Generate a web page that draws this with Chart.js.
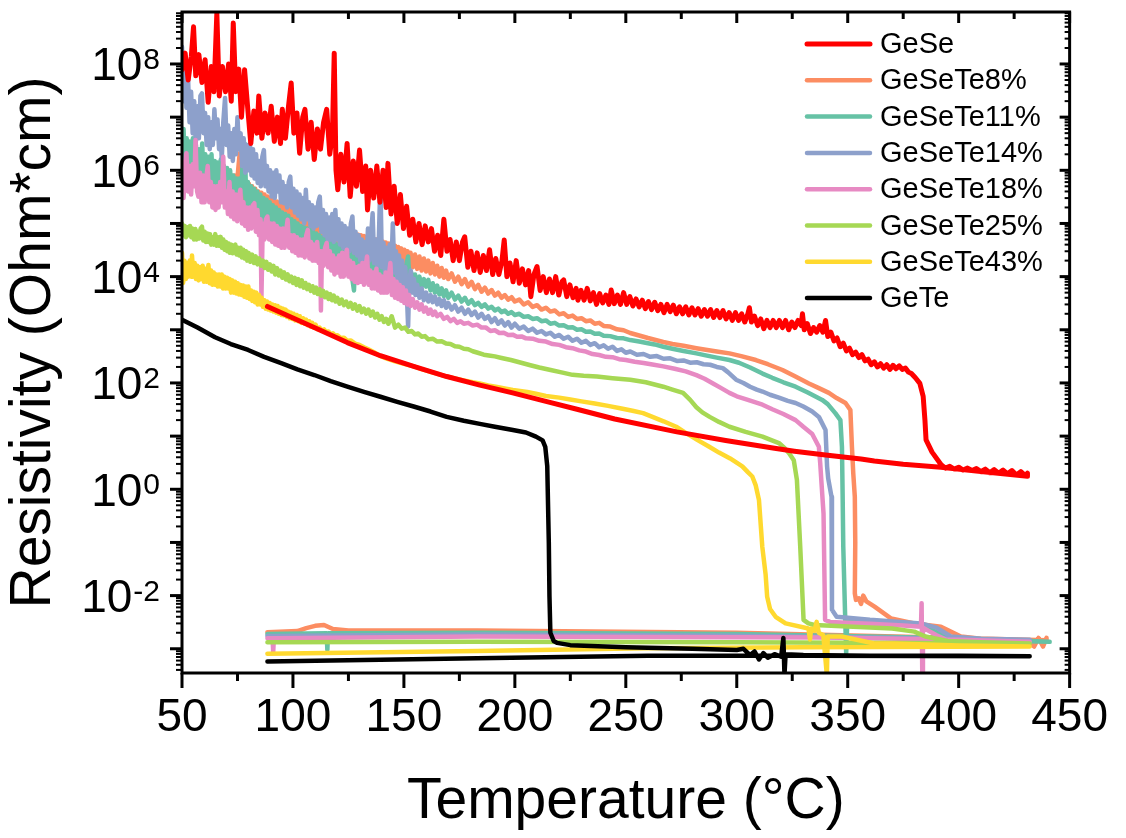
<!DOCTYPE html>
<html>
<head>
<meta charset="utf-8">
<title>Resistivity vs temperature</title>
<script src="https://cdn.jsdelivr.net/npm/chart.js@4.4.1/dist/chart.umd.min.js"></script>
<style>
  html, body { margin: 0; padding: 0; background: #fff; }
  #wrap { width: 1126px; height: 838px; }
</style>
</head>
<body>
<div id="wrap"><canvas id="chart" width="1126" height="838"></canvas></div>
<script>
// Temperature ticks (°C) and labelled decades on the resistivity axis
const tempTicks = [50, 100, 150, 200, 250, 300, 350, 400, 450];
const tempMinorTicks = [75, 125, 175, 225, 275, 325, 375, 425];
const decadeLabels = [8, 6, 4, 2, 0, -2];

// Each sample: heating run [T, rho] followed by the cooling run back down
const geseHeat = [[50,7.8e7],[51.4,1.6e8],[52.8,5e7],[54.2,1.4e8],[55.2,5e8],[56.2,6e7],[57.6,1.5e8],[59,4.5e7],[60.4,1.2e8],[61.8,1.9e7],[63.2,9e7],[64.4,3e7],[65.7,9e8],[66.8,2.5e7],[68.2,9e7],[69.6,3e7],[71,1e8],[72.2,2e7],[73.1,5.9e8],[74.2,3e7],[75.6,8e7],[76.8,1e7],[78.2,7.8e7],[79.6,1.5e7],[81,3.2e6],[82.4,1.3e7],[83.8,5e6],[84.6,2.5e7],[86,4e6],[87.4,1.2e7],[88.8,5e6],[90.2,1.6e7],[91.6,3.5e6],[93,1e7],[94.4,3.2e6],[95.2,1.4e7],[96.6,4e6],[98,1.6e7],[99.2,4.4e7],[100.4,5e6],[101.8,1.2e7],[103,2.1e6],[104.4,1e7],[105.4,1.4e7],[106.8,2.5e6],[108.2,8e6],[109.6,1.6e6],[111,6e6],[112.4,2.5e6],[113.8,8e6],[115.2,1.4e7],[116.6,2e6],[117.8,5e6],[118.6,1.6e8],[119.4,1e6],[120.2,4.3e5],[121.6,2e6],[123,6e5],[124.4,3.2e6],[125.8,3.2e5],[127.2,1.5e6],[128.6,5e5],[130,2.4e6],[131.4,4e5],[132.8,1.2e6],[133.6,1.8e5],[135,1e6],[136.4,3e5],[137.8,1.2e6],[139.2,2.5e5],[140.6,1e6],[142,2e5],[142.8,1.35e6],[144.2,1.5e5],[145.6,5e5],[147,1e5],[148.4,3.5e5],[149.8,8e4],[151.2,2.1e5],[152.6,6e4],[154,1.2e5],[155.4,4.5e4],[156.8,1e5],[158.2,4e4],[159.6,9e4],[161,4.5e4],[162.4,8e4],[163.8,3e4],[165.2,6e4],[166.6,2.5e4],[168,1.2e5],[169.4,3e4],[170.8,5e4],[172.2,2e4],[173.6,4.5e4],[175,2e4],[176.4,4.5e4],[177.4,5.6e4],[178.8,1.5e4],[180.2,3e4],[181.6,1.3e4],[183,2.8e4],[184.4,1.2e4],[185.8,2.5e4],[187.2,1.3e4],[188.6,3.2e4],[190,1.1e4],[191.4,2.2e4],[192.8,1.1e4],[194.2,2e4],[195.2,4.9e4],[196.4,1e4],[197.8,1.8e4],[199.2,8e3],[200.6,2e4],[202,7.5e3],[203.4,1.4e4],[204.8,7e3],[206.2,1.3e4],[207.2,4.2e3],[208.6,1.1e4],[210,1.55e4],[211.4,5.5e3],[212.8,1e4],[214.2,5e3],[215.6,9e3],[217,5e3],[218.4,1e4],[219.8,4.5e3],[221.2,8e3],[222,8.7e3],[223.4,4.2e3],[224.8,7e3],[226.2,4e3],[227.6,6e3],[228.4,3.6e3],[229.8,5.5e3],[231.2,3.6e3],[232.6,6e3],[234,3.5e3],[235.4,5e3],[236.8,3e3],[238.2,4.8e3],[239.6,3.2e3],[241,4.5e3],[242.4,3e3],[243.4,5.6e3],[244.8,3.1e3],[246.2,4.5e3],[247.6,3e3],[249,5e3],[250.4,3e3],[251.8,4.2e3],[253.2,2.8e3],[254.6,3.8e3],[256,2.7e3],[257.4,3.6e3],[258.8,2.5e3],[260.2,3.4e3],[261.6,2.4e3],[263,3.3e3],[264.4,2.3e3],[265.8,3e3],[267.2,2.1e3],[268.6,3e3],[270,2.2e3],[271.4,2.9e3],[272.8,2e3],[274.2,2.7e3],[275.6,2e3],[277,2.7e3],[278.4,1.9e3],[279.8,2.6e3],[281.2,1.9e3],[282.6,2.5e3],[284,1.8e3],[285.4,2.4e3],[286.8,1.8e3],[288.2,2.4e3],[289.6,1.7e3],[291,2.3e3],[292.4,1.7e3],[293.8,2.3e3],[295.2,1.6e3],[296.6,2.1e3],[298,1.5e3],[299.4,2.1e3],[300.8,1.5e3],[302.2,2e3],[303.6,1.4e3],[305,2e3],[305.7,2.6e3],[306.6,1.4e3],[308,1.8e3],[309.4,1.2e3],[310.8,1.6e3],[312.2,1.05e3],[313.6,1.5e3],[315,1.1e3],[316.4,1.5e3],[317.8,1.1e3],[319.2,1.5e3],[320.6,1.1e3],[322,1.5e3],[323.4,1e3],[324.8,1.4e3],[326.2,1.1e3],[327.6,1.5e3],[329,1.2e3],[329.6,2e3],[330.4,1e3],[331.8,1.3e3],[333.2,850],[334.6,1.1e3],[336,900],[337.4,1.2e3],[338.8,900],[340,1.5e3],[341,750],[342.4,900],[343.8,620],[345.2,700],[346.6,480],[348,560],[349.4,400],[350.8,450],[352.2,340],[353.6,380],[355,300],[356.4,340],[357.8,260],[359.2,280],[360.6,220],[362,250],[363.4,200],[364.8,230],[366.2,190],[367.6,220],[369,180],[370.4,215],[371.8,185],[373.2,210],[374.6,180],[376,190],[377.4,160],[378.7,150],[380.5,125],[382.5,98],[384,56],[384.8,20],[385.3,8.5],[388,5],[392.1,2.9],[394,2.5],[396,2.7],[398,2.4],[400,2.6],[402,2.3],[404,2.5],[406,2.25],[408,2.45],[410,2.15],[412,2.4],[414,2.05],[416,2.35],[418,2.0],[420,2.3],[422,1.95],[424,2.25],[426,1.85],[428,2.15],[430,1.8],[431,2.0]];
const geseCool = [[431,1.75],[410,2.15],[392,2.6],[375,2.95],[362,3.4],[356,3.7],[340,4.4],[326,5.2],[317,5.9],[295,8.3],[273,12],[245,21],[228,32],[214,45],[199,65],[184.2,91],[169.3,132],[154.4,205],[139.4,325],[124.5,575],[109.6,1100],[98,1820],[88.5,2750]];

const te8Heat = [[50,3.2e6],[50.7,8e5],[51.4,2.5e6],[52.1,7e5],[52.8,2.2e6],[53.5,6e5],[54.2,2.5e6],[54.9,6e5],[55.6,2e6],[56.3,5e5],[57,1.8e6],[57.7,5e5],[58.4,2e6],[59.1,4.5e5],[59.8,1.6e6],[60.5,4e5],[61.2,1.5e6],[61.9,4e5],[62.6,1.6e6],[63.3,3.5e5],[64,1.3e6],[64.7,3.5e5],[65.4,1.2e6],[66.1,3e5],[66.8,1.2e6],[67.5,3e5],[68.2,1e6],[68.9,2.8e5],[69.6,1e6],[70.3,2.5e5],[71,9e5],[71.7,2.5e5],[72.4,8e5],[73.1,2.2e5],[73.8,8e5],[74.5,2e5],[75.2,9e5],[76,2.1e6],[76.7,2e5],[77.4,7e5],[78.1,1.8e5],[78.8,6e5],[79.5,1.6e5],[80.2,5.5e5],[80.9,1.5e5],[81.6,5e5],[82.3,1.4e5],[83,4.5e5],[83.7,1.3e5],[84.4,4e5],[85.1,1.2e5],[85.8,3.8e5],[86.5,1.1e5],[87.2,3.5e5],[87.9,1e5],[88.6,3.2e5],[89.3,9e4],[90,3e5],[90.7,8.5e4],[91.4,2.8e5],[92.1,8e4],[92.8,2.6e5],[93.5,7.5e4],[94.2,2.4e5],[94.9,7e4],[95.6,2.2e5],[96.3,6.5e4],[97,2e5],[97.7,6.2e4],[98.4,1.9e5],[99.1,6e4],[99.8,1.8e5],[100.5,5.5e4],[101.2,1.7e5],[101.9,5.2e4],[102.6,1.6e5],[103.3,5e4],[104,1.5e5],[104.7,4.8e4],[105.4,1.4e5],[106.1,4.6e4],[106.8,1.3e5],[107.5,4.4e4],[108.2,1.25e5],[108.9,4.2e4],[109.6,1.2e5],[110.3,4e4],[111,1.1e5],[111.7,3.8e4],[112.4,1.05e5],[113.1,3.6e4],[113.8,1e5],[114.5,3.5e4],[115.2,9.5e4],[115.9,3.4e4],[116.6,9e4],[117.3,3.2e4],[118,8.5e4],[118.7,3.1e4],[119.4,8e4],[120.1,3e4],[120.8,7.8e4],[121.5,2.9e4],[122.2,7.5e4],[122.9,2.8e4],[123.6,7.2e4],[124.3,2.7e4],[125,7e4],[125.7,2.6e4],[126.4,6.8e4],[127.1,2.5e4],[127.8,6.5e4],[128.5,2.4e4],[129.2,6.2e4],[129.9,2.3e4],[130.6,6e4],[131.3,2.2e4],[132,5.8e4],[132.7,2.1e4],[133.4,5.6e4],[134.1,2e4],[134.8,5.4e4],[135.5,1.9e4],[136.2,5.2e4],[136.9,1.8e4],[137.6,5e4],[138.3,1.8e4],[139,4.8e4],[139.7,1.7e4],[140.4,4.6e4],[141.1,1.7e4],[141.8,4.4e4],[142.5,2e4],[143.2,4.2e4],[143.9,2e4],[144.6,4e4],[145.3,1.9e4],[146,3.8e4],[146.7,1.8e4],[147.4,3.6e4],[148.1,1.7e4],[148.8,3.4e4],[149.5,1.6e4],[150.2,3.2e4],[150.9,1.6e4],[151.6,3e4],[152.3,1.5e4],[153,2.8e4],[154,1.5e4],[155,2.6e4],[156,1.4e4],[157,2.4e4],[158,1.3e4],[159,2.2e4],[160,1.25e4],[161,2e4],[162,1.15e4],[163,1.8e4],[164,1.1e4],[165,1.6e4],[166,1e4],[167,1.45e4],[168,9.5e3],[169,1.3e4],[170,9e3],[171.5,1.15e4],[173,8e3],[174.5,1e4],[176,7.2e3],[177.5,9e3],[179,6.5e3],[180.5,8e3],[182,5.8e3],[183.5,7e3],[185,5.2e3],[186.5,6.2e3],[188,4.8e3],[189.5,5.6e3],[191,4.4e3],[192.5,5e3],[194,4e3],[195.5,4.5e3],[197,3.7e3],[198.5,4.1e3],[200,3.4e3],[202,3.7e3],[204,3e3],[206,3.3e3],[208,2.7e3],[210,2.9e3],[212,2.4e3],[214,2.6e3],[216,2.2e3],[218,2.3e3],[220,1.95e3],[222,2.05e3],[224,1.75e3],[226,1.85e3],[228,1.6e3],[230,1.65e3],[232,1.45e3],[234,1.5e3],[236,1.3e3],[238,1.35e3],[240,1.18e3],[243,1.15e3],[246,1.02e3],[249,980],[252,870],[256,780],[260,700],[263,650],[266.9,590],[271,540],[276,500],[281.8,450],[286,420],[291,390],[296.7,360],[302,320],[308.6,270],[314,225],[320.6,175],[326,135],[332.5,98],[337,80],[341.5,65],[345,52],[349,42],[351.2,31],[351.9,6.3],[352.5,2],[353.2,0.72],[353.4,0.1],[353.2,0.011],[353.7,8.3e-3],[355,8.9e-3],[356,7e-3],[357,1e-2],[358.4,7.8e-3],[362.1,6.2e-3],[369.6,3.7e-3],[380,3e-3],[392,2.6e-3],[401,1.7e-3],[416,1.45e-3],[432.2,1.26e-3],[434,1.1e-3],[436,1.6e-3],[438,1.1e-3],[439.6,1.6e-3]];
const te8Cool = [[439.6,1.45e-3],[400,1.6e-3],[300,2e-3],[183,2.2e-3],[125,2.2e-3],[118,2.35e-3],[114,2.8e-3],[110,2.7e-3],[106,2.45e-3],[102,2.15e-3],[88.5,2.05e-3]];

const te11Heat = [[50,1.6e6],[50.7,6e6],[51.4,8e5],[52.1,4e6],[52.8,1e6],[53.5,3.5e6],[54.2,7e5],[54.9,4e6],[55.6,9e5],[56.3,3e6],[57,6e5],[57.7,2.5e6],[58.4,7e5],[59.1,3.2e6],[59.8,5e5],[60.5,2e6],[61.2,4.5e5],[61.9,1.8e6],[62.6,5e5],[63.3,2e6],[64,4e5],[64.7,1.5e6],[65.4,4e5],[66.1,1.4e6],[66.8,3.5e5],[67.5,1.6e6],[68.2,3e5],[68.9,1.2e6],[69.6,3e5],[70.3,1.1e6],[71,2.5e5],[71.7,1e6],[72.4,2.5e5],[73.1,8e5],[73.8,2e5],[74.5,7e5],[75.2,2e5],[75.9,7e5],[76.6,2e5],[77.3,1.5e6],[78.3,3.2e6],[79,2e5],[79.7,6e5],[80.4,1.6e5],[81.1,5e5],[81.8,1.4e5],[82.5,4.5e5],[83.2,1.2e5],[83.9,4e5],[84.6,1.1e5],[85.3,3.5e5],[86,1e5],[86.7,3e5],[87.4,9e4],[88.1,2.8e5],[88.8,8e4],[89.5,2.5e5],[90.2,7e4],[90.9,2.2e5],[91.6,6.5e4],[92.3,2e5],[93,6e4],[93.7,1.8e5],[94.4,5.5e4],[95.1,1.6e5],[95.8,5e4],[96.5,1.5e5],[97.2,4.5e4],[97.9,1.4e5],[98.6,4e4],[99.3,1.2e5],[100,3.8e4],[100.7,1.1e5],[101.4,3.5e4],[102.1,1e5],[102.8,3.2e4],[103.5,9e4],[104.2,3e4],[104.9,8.5e4],[105.6,2.8e4],[106.3,8e4],[107,2.6e4],[107.7,7.5e4],[108.4,2.4e4],[109.1,7e4],[109.8,2.2e4],[110.5,6.5e4],[111.2,2e4],[111.9,6e4],[112.6,1.9e4],[113.3,5.5e4],[114,1.8e4],[114.7,5e4],[115.4,1.7e4],[116.1,4.8e4],[116.8,1.6e4],[117.5,4.5e4],[118.2,1.5e4],[118.9,4.2e4],[119.6,1.4e4],[120.3,4e4],[121,1.3e4],[121.7,3.8e4],[122.4,1.25e4],[123.1,3.6e4],[123.8,1.2e4],[124.5,3.4e4],[125.2,1.1e4],[125.9,3.2e4],[126.6,1e4],[127.5,5.5e3],[128.2,3e4],[128.9,1e4],[129.6,2.8e4],[130.3,9e3],[131,2.6e4],[131.7,8.5e3],[132.4,2.5e4],[133.1,3.5e4],[133.8,8e3],[134.5,2.3e4],[135.2,7.5e3],[135.9,2.2e4],[136.6,7e3],[137.3,2.8e4],[138,7e3],[138.7,2e4],[139.4,6.5e3],[140.1,1.9e4],[140.8,6.5e3],[141.5,2.2e4],[142.2,6e3],[142.9,1.7e4],[143.6,6e3],[144.3,1.6e4],[145,5.8e3],[145.7,2e4],[146.4,5.5e3],[147.1,1.4e4],[147.8,5.5e3],[148.5,1.3e4],[149.2,5.2e3],[149.9,1.6e4],[150.6,6e3],[151.3,1.8e4],[151.9,2.4e4],[152.6,7e3],[153.3,1.2e4],[154,6.5e3],[155,1.1e4],[156,6.5e3],[157,1e4],[158,6.5e3],[159,9e3],[160,6.5e3],[161,8.7e3],[162,5.5e3],[163,7.5e3],[164,5e3],[165,6.8e3],[166,4.6e3],[167,6e3],[168,4.3e3],[169,5.5e3],[170,4e3],[171.5,5e3],[173,3.7e3],[174.5,4.4e3],[176,3.4e3],[177.5,4e3],[179,3.1e3],[180.5,3.6e3],[182,2.9e3],[183.5,3.2e3],[185,2.7e3],[186.5,3e3],[188,2.5e3],[189.5,2.7e3],[191,2.3e3],[192.5,2.5e3],[194,2.15e3],[195.5,2.3e3],[197,2e3],[198.5,2.15e3],[200,1.9e3],[202,2e3],[204,1.75e3],[206,1.8e3],[208,1.6e3],[210,1.65e3],[212,1.45e3],[214,1.5e3],[216,1.3e3],[218,1.35e3],[220,1.2e3],[222,1.22e3],[224,1.1e3],[226,1.12e3],[228,1e3],[230,1.02e3],[232,920],[234,930],[236,840],[238,850],[240,770],[243,760],[246,700],[249,690],[252,640],[256,600],[260,560],[263,530],[266.9,480],[271,440],[276,400],[281.8,360],[286,330],[291,300],[296.7,270],[301,240],[306,195],[311.6,150],[316,125],[321,103],[326.5,85],[332,66],[338.5,48],[341,40],[344.4,27],[346.7,20],[347.4,6.3],[347.7,0.83],[348,0.083],[348.8,4.7e-3],[349.3,8.3e-4],[349.8,3.2e-3],[360,3.2e-3],[383,2.8e-3],[395,1.66e-3],[410,1.45e-3],[441,1.35e-3]];
const te11Cool = [[441,1.35e-3],[400,1.58e-3],[300,1.9e-3],[183,2e-3],[115.8,1.95e-3],[115.5,9.5e-4],[115.2,1.95e-3],[88.5,1.9e-3]];

const te14Heat = [[50,2.1e8],[50.6,2e7],[51.3,1e8],[52,1.5e7],[52.7,6e7],[53.4,8e6],[54.1,3e7],[54.8,5e6],[55.5,2e7],[56.2,3.2e6],[56.9,1.6e7],[57.6,4e6],[58.3,2.5e7],[59,2.8e7],[59.7,5e6],[60.4,1.2e7],[61.1,3e6],[61.8,1e7],[62.5,2.5e6],[63.2,8e6],[63.9,3e6],[64.6,1.4e7],[65.3,4e6],[66,9e6],[66.7,2.5e6],[67.4,6e6],[67.9,1.6e6],[68.6,8e6],[69.4,2.3e7],[70.1,3e6],[70.8,7e6],[71.5,1.8e6],[72.2,5e6],[72.9,1.5e6],[73.6,6e6],[74.3,2e6],[75,1e7],[75.7,2.5e6],[76.4,5e6],[77.1,1.2e6],[77.8,4e6],[78.5,9e5],[79.2,3e6],[79.9,1e6],[80.6,3.2e6],[81.3,8e5],[82,2.5e6],[82.7,7e5],[83.4,2e6],[84.1,5.8e5],[84.8,1.5e6],[85.5,5e5],[86.2,1.8e6],[86.9,2.4e6],[87.6,5e5],[88.3,1.2e6],[89,4e5],[89.7,1e6],[90.4,3.2e5],[91.1,9e5],[91.8,3e5],[92.5,1e6],[93.2,4e5],[93.9,8e5],[94.6,2.5e5],[95.3,6e5],[96,2.4e5],[96.7,5e5],[97.4,2e5],[98.1,6e5],[98.8,7.6e5],[99.5,2e5],[100.2,4.5e5],[100.9,1.6e5],[101.6,4e5],[102.3,1.4e5],[103,3.5e5],[103.7,1.2e5],[104.4,3e5],[105.1,1e5],[105.8,4.3e5],[106.5,1.2e5],[107.2,2.5e5],[107.9,9e4],[108.6,2.2e5],[109.3,8e4],[110,2e5],[110.7,9e4],[111.4,2.5e5],[112.1,3.2e5],[112.8,7e4],[113.5,1.8e5],[114.2,6e4],[114.9,1.5e5],[115.6,5e4],[116.3,1.3e5],[117,5e4],[117.7,1.5e5],[118.4,4.5e4],[119.1,1.8e5],[119.8,5e4],[120.5,1.2e5],[121.2,4e4],[121.9,1e5],[122.6,3.5e4],[123.3,9e4],[124,3e4],[124.7,8e4],[125.4,3e4],[126.1,1e5],[126.8,1.35e5],[127.5,2.8e4],[128.2,7e4],[128.9,2.5e4],[129.6,6e4],[130.3,2e4],[131,5e4],[131.7,1.8e4],[132.4,4.5e4],[133.1,1.6e4],[133.8,8e4],[134.5,2e4],[135.2,6e4],[135.9,1.55e5],[136.6,1.8e4],[137.3,5e4],[138,1.5e4],[138.7,5e4],[139.4,6.3e5],[140.1,1.5e4],[140.8,4.3e4],[141.5,1.2e4],[142.2,3.5e4],[142.9,1e4],[143.6,4e4],[144.3,1.2e4],[145,1e5],[145.7,1.2e4],[146.4,3e4],[147.1,8e3],[147.8,2.5e4],[148.5,7e3],[149.2,2e4],[149.9,6e3],[150.6,1.5e4],[151.3,5e3],[151.9,1150],[152.4,8e3],[153.1,1.3e4],[153.8,5e3],[154.5,9e3],[155.2,4.5e3],[156,7e3],[157,4e3],[158,6e3],[159,3.6e3],[160,5e3],[161,3.4e3],[162,4.5e3],[163,3.3e3],[164,4.2e3],[165,3e3],[166,3.8e3],[167,2.8e3],[168,3.6e3],[169,2.6e3],[170,3.2e3],[171.5,2.4e3],[173,2.9e3],[174.5,2.2e3],[176,2.6e3],[177.5,2e3],[179,2.4e3],[180.5,1.9e3],[182,2.2e3],[183.5,1.7e3],[185,2e3],[186.5,1.6e3],[188,1.8e3],[189.5,1.4e3],[191,1.65e3],[192.5,1.3e3],[194,1.5e3],[195.5,1.2e3],[197,1.4e3],[198.5,1.1e3],[200,1.3e3],[202,1.05e3],[204,1.15e3],[206,950],[208,1.05e3],[210,880],[212,950],[214,820],[216,880],[218,740],[220,800],[222,680],[224,740],[226,620],[228,680],[230,570],[232,620],[234,520],[236,560],[238,470],[240,510],[242,440],[244,480],[246,400],[248,430],[250,370],[252,390],[255,340],[258,350],[261,310],[264,320],[267,285],[270,290],[273,260],[276,265],[279,240],[282,245],[285,225],[288,220],[291,200],[293.7,190],[296,160],[299.7,115],[303,100],[306,85],[309,75],[311.6,69],[315,60],[319,53],[323,46],[326.5,42],[330,36],[334,29],[337,23],[340,13],[340.7,2.7],[341.2,1.6],[342.7,0.72],[342.9,5.4e-3],[345,4e-3],[360,3.5e-3],[383,3e-3],[390,2.5e-3],[396.5,1.7e-3],[410,1.55e-3],[432,1.48e-3]];
const te14Cool = [[432,1.48e-3],[300,1.75e-3],[183,1.86e-3],[88.5,1.74e-3]];

const te18Heat = [[50,1e6],[50.7,3e5],[51.4,1.5e6],[52,2.1e6],[52.7,4e5],[53.4,1.2e6],[54.1,3.5e5],[54.8,1.3e6],[55.5,5e5],[56.1,3.7e6],[56.8,4e5],[57.4,3.2e5],[58.1,9e5],[58.8,2.5e5],[59.5,8e5],[60.2,2.5e5],[60.9,7e5],[61.6,1.2e6],[62.3,2.5e5],[63,6e5],[63.7,2e5],[64.4,5e5],[65.1,1.8e5],[65.8,5e5],[66.5,2e5],[67.2,6e5],[67.9,2.5e5],[68.6,1.8e6],[69.3,2e5],[70,4e5],[70.7,1.5e5],[71.4,6e5],[72.1,1.35e5],[72.8,4e5],[73.5,1.2e5],[74.2,3.5e5],[74.9,1.1e5],[75.6,3e5],[76.3,4.3e5],[77,1e5],[77.7,2.5e5],[78.4,9e4],[79.1,2e5],[79.8,7.6e4],[80.5,2e5],[81.2,8e4],[81.9,2.2e5],[82.6,2.4e5],[83.3,7e4],[84,1.8e5],[84.7,6e4],[85.4,1.2e5],[85.8,4.2e3],[86.4,1e5],[87.1,5e4],[87.8,1.2e5],[88.5,1.35e5],[89.2,5e4],[89.9,1e5],[90.6,4.5e4],[91.3,1e5],[92,4e4],[92.7,9e4],[93.4,3.8e4],[94.1,8e4],[94.8,3.5e4],[95.5,8e4],[96.2,3.5e4],[96.9,7e4],[97.6,1.17e5],[98.3,3.5e4],[99,6e4],[99.7,3e4],[100.4,6e4],[101.1,2.8e4],[101.8,5.5e4],[102.5,2.5e4],[103.2,5e4],[103.9,2.5e4],[104.6,5e4],[105.3,2.3e4],[106,6e4],[106.7,7.6e4],[107.4,2.2e4],[108.1,4.5e4],[108.8,2e4],[109.5,4e4],[110.2,2e4],[110.9,4.5e4],[111.6,1.8e4],[112.3,3e4],[112.6,2.3e3],[113.1,3e4],[113.8,1.6e4],[114.5,3.5e4],[115.2,4.3e4],[115.9,1.5e4],[116.6,3e4],[117.3,1.3e4],[118,2.5e4],[118.7,1.1e4],[119.4,2.2e4],[120.1,1.2e4],[120.8,2.5e4],[121.5,1e4],[122.2,2.8e4],[122.9,1e4],[123.6,2.2e4],[124.3,3.2e4],[125,1e4],[125.7,2e4],[126.4,9e3],[127.1,1.8e4],[127.8,8e3],[128.5,1.5e4],[129.2,7.6e3],[129.9,1.6e4],[130.6,8e3],[131.3,1.8e4],[132,7e3],[132.7,1.5e4],[133.4,2.4e4],[134.1,7e3],[134.8,1.3e4],[135.5,6e3],[136.2,1.2e4],[136.9,6e3],[137.6,1.4e4],[138.3,5.5e3],[139,1.1e4],[139.7,5e3],[140.4,1e4],[141.1,5e3],[141.8,1.2e4],[142.5,5e3],[143.2,1e4],[143.9,1.8e4],[144.6,4.5e3],[145.3,9e3],[146,4e3],[146.7,8e3],[147.4,3.8e3],[148.1,7e3],[148.8,3.5e3],[149.5,6.3e3],[150.2,3.2e3],[150.9,5.5e3],[151.6,3e3],[152.3,4.5e3],[153,2.8e3],[154,3.8e3],[155,2.6e3],[156,3.3e3],[157,2.4e3],[158,3e3],[159,2.2e3],[160,2.6e3],[161,2e3],[162,2.4e3],[163,1.9e3],[164,2.2e3],[165,1.8e3],[166.5,2e3],[168,1.6e3],[169.5,1.75e3],[171,1.45e3],[172.5,1.6e3],[174,1.35e3],[175.5,1.45e3],[177,1.3e3],[179,1.35e3],[181,1.2e3],[183,1.25e3],[185,1.1e3],[187,1.1e3],[189,950],[191,980],[193,870],[195,880],[197,800],[199,810],[201,740],[203,750],[205,690],[208,680],[211,620],[214,600],[217,540],[220,520],[223,470],[226,450],[229,410],[232,390],[235,350],[238,335],[241,310],[244,305],[247,280],[250,270],[254,250],[258,238],[262,222],[266.9,205],[272,185],[277,165],[281.8,140],[285.5,120],[289.3,98],[293,80],[296.7,65],[300,56],[305,48],[311.6,39],[316,32],[321,26],[326.5,20],[330,15],[334,11],[337,6.3],[337.6,3.1],[338.5,0.83],[339.1,0.35],[339.8,3.5e-3],[342,3.2e-3],[360,2.95e-3],[375,2.75e-3],[383,2.6e-3],[383.3,7.2e-3],[383.6,3.2e-4],[383.9,2.5e-3],[390,1.8e-3],[395,1.45e-3],[410,1.38e-3],[432,1.35e-3]];
const te18Cool = [[432,1.35e-3],[400,1.48e-3],[340,1.62e-3],[183,1.7e-3],[91.4,1.58e-3],[91.1,8.7e-4],[90.8,1.58e-3],[88.5,1.58e-3]];

const te25Heat = [[50,1e5],[50.6,6e4],[51.2,9e4],[51.8,5.5e4],[52.4,8.5e4],[53,6e4],[53.6,9e4],[54.2,5.5e4],[54.8,8e4],[55.4,5e4],[56,7.9e4],[56.6,5e4],[57.2,7e4],[57.8,5.2e4],[58.4,8e4],[59,8.7e4],[59.6,4.8e4],[60.2,7e4],[60.8,4.5e4],[61.4,6.5e4],[62,4.5e4],[62.6,6.3e4],[63.2,4e4],[63.8,5.5e4],[64.4,4e4],[65,6.3e4],[65.6,3.8e4],[66.2,5.5e4],[66.8,3.8e4],[67.4,5.6e4],[68,3.5e4],[68.6,5e4],[69.2,3.2e4],[69.8,4.5e4],[70.4,3e4],[71,4.2e4],[71.6,2.8e4],[72.2,4e4],[72.8,2.75e4],[73.4,3.8e4],[74,4e4],[74.6,2.6e4],[75.2,3.5e4],[75.8,2.5e4],[76.4,3.5e4],[77,2.3e4],[77.6,3.2e4],[78.2,2.2e4],[78.8,3e4],[79.4,2e4],[80,2.8e4],[80.8,1.9e4],[81.6,2.6e4],[82.4,1.8e4],[83.2,2.4e4],[84,1.7e4],[84.8,2.2e4],[85.6,1.6e4],[86.4,2e4],[87.2,1.45e4],[88,1.9e4],[88.8,1.35e4],[89.6,1.7e4],[90.4,1.25e4],[91.2,1.6e4],[92,1.1e4],[92.8,1.45e4],[93.6,1.05e4],[94.4,1.3e4],[95.2,9.5e3],[96,1.2e4],[96.8,8.8e3],[97.6,1.1e4],[98.4,8.2e3],[99.2,1e4],[100,7.6e3],[100.8,9.5e3],[101.6,7e3],[102.4,9e3],[103.2,6.6e3],[104,8.5e3],[104.8,6.2e3],[105.6,7.6e3],[106.4,5.8e3],[107.2,7e3],[108,5.4e3],[108.8,6.6e3],[109.6,5e3],[110.4,6.2e3],[111.2,4.7e3],[112,5.8e3],[112.8,4.4e3],[113.6,5.4e3],[114.4,4.1e3],[115.2,5e3],[116,3.8e3],[116.8,4.7e3],[117.6,3.6e3],[118.4,4.4e3],[119.2,3.4e3],[120,4e3],[121,3.1e3],[122,3.7e3],[123,2.9e3],[124,3.4e3],[125,2.7e3],[126,3.2e3],[127,2.5e3],[128,3e3],[129,2.3e3],[130,2.8e3],[131,2.15e3],[132,2.5e3],[133,2e3],[134,2.4e3],[135,1.85e3],[136,2.2e3],[137,1.7e3],[138,2e3],[139,1.55e3],[140,1.8e3],[141,1.4e3],[142,1.6e3],[143,1.3e3],[144.5,1.8e3],[146,1.1e3],[147.5,1.25e3],[149,1.05e3],[150.5,1.1e3],[152,920],[153.5,950],[155,820],[156.5,850],[158,740],[159.5,760],[161,660],[163,680],[165,600],[167,610],[169,550],[171,540],[173,490],[175,480],[177,440],[179,430],[181,395],[183.3,370],[186,340],[189,325],[191,316],[194,295],[198.2,270],[202,245],[207,215],[211,195],[216.1,175],[221,158],[226,142],[231,136],[237,132],[244,123],[252,115],[259,103],[266.9,85],[271,75],[275.8,65],[279,48],[281.8,35],[284.5,28],[287.8,23],[292,18.5],[296.7,15],[304,12],[311.6,9.8],[315,8.6],[319,7.4],[321.5,6],[323.5,4.8],[325.7,3.5],[327.1,1.5],[328.6,0.083],[330.1,3.5e-3],[332.3,3e-3],[335,2.8e-3],[370,2.4e-3],[380,2.1e-3],[385,1.7e-3],[395,1.4e-3],[410,1.32e-3],[432,1.26e-3]];
const te25Cool = [[432,1.26e-3],[300,1.33e-3],[183,1.35e-3],[88.5,1.32e-3]];

const te43Heat = [[50,2.8e4],[50.5,7.6e3],[51.1,2e4],[51.7,9e3],[52.3,1.8e4],[52.9,1e4],[53.5,2e4],[54.1,1e4],[54.5,2.5e4],[55.1,1e4],[55.7,1.8e4],[56.3,9e3],[56.9,1.6e4],[57.5,8.5e3],[58.1,1.5e4],[58.7,9e3],[59.3,1.6e4],[59.9,8e3],[60.5,1.4e4],[61.1,8e3],[61.9,1.66e4],[62.5,7.5e3],[63.1,1.3e4],[63.7,7e3],[64.3,1.2e4],[64.9,7e3],[65.5,1.1e4],[66.1,6.5e3],[66.7,1.1e4],[67.3,6.5e3],[67.9,1.1e4],[68.5,6e3],[69.1,1e4],[69.7,6e3],[70.3,9.5e3],[70.9,6e3],[71.5,9e3],[72.1,5e3],[72.7,8.5e3],[73.3,5e3],[73.9,8e3],[74.5,4.8e3],[75.1,7.5e3],[75.7,4.6e3],[76.3,7e3],[76.9,4.5e3],[77.5,6.8e3],[78.1,4.2e3],[78.7,6.5e3],[79.3,4e3],[79.9,6.5e3],[80.5,3.8e3],[81.1,5.5e3],[81.7,3.5e3],[82.3,5.2e3],[82.9,3.3e3],[83.5,5e3],[84.1,3e3],[84.7,4.5e3],[85.3,3e3],[85.9,4e3],[86.5,2.7e3],[87.1,3.6e3],[87.7,2.5e3],[88.3,3.4e3],[88.9,2.4e3],[89.5,3.2e3],[90.1,2.3e3],[90.7,3e3],[91.3,2.2e3],[91.9,2.9e3],[92.5,2.1e3],[93.1,2.8e3],[93.7,2e3],[94.3,2.6e3],[94.9,1.9e3],[95.5,2.5e3],[96.1,1.85e3],[96.7,2.4e3],[97.3,1.75e3],[97.9,2.2e3],[98.5,1.65e3],[99.1,2.1e3],[99.7,1.6e3],[100.3,2e3],[101,1.5e3],[101.7,1.9e3],[102.4,1.45e3],[103.1,1.8e3],[103.8,1.35e3],[104.5,1.65e3],[105.2,1.3e3],[105.9,1.55e3],[106.6,1.22e3],[107.3,1.45e3],[108,1.15e3],[108.7,1.35e3],[109.4,1.1e3],[110.2,1.25e3],[111,1.03e3],[112,1.1e3],[113,960],[114,1.02e3],[115,900],[116,930],[117,830],[118,860],[119,770],[120,790],[121.5,700],[123,710],[124.5,620],[126,630],[128,550],[130,520],[132,470],[134,430],[136.5,380],[139.4,320],[142,290],[146,255],[150,230],[154.4,205],[158,182],[162,162],[166,145],[169.3,132],[173,122],[177,112],[181,103],[184.2,98],[188,90],[192,84],[196,78],[199.1,74],[205.6,68],[210,62],[214,57],[220,53],[225,49],[230,45],[236,41],[242,37],[248,33],[253,30],[257.8,27],[262,23],[267,19],[272.7,15],[277,11.5],[282,8.6],[287.6,6.3],[292,4.9],[297,3.8],[302.5,2.7],[305,2.1],[307,1.74],[308.5,1.2],[310,0.63],[311.5,0.083],[313,0.025],[313.7,9.5e-3],[315,5.6e-3],[317.5,4e-3],[322,3e-3],[332.3,2.4e-3],[333,1.5e-3],[333.5,2.4e-3],[335,2.2e-3],[336,3.2e-3],[337,2e-3],[339,1.8e-3],[340.6,3.2e-4],[341,1.7e-3],[347.3,1.7e-3],[361.9,1.26e-3],[371,1.26e-3],[400,1.15e-3],[432,1.1e-3]];
const te43Cool = [[432,1.1e-3],[330,1.07e-3],[259,1.02e-3],[183,9.1e-4],[88.5,8.1e-4]];

const geteHeat = [[50,1550],[57,1100],[64.9,725],[72,540],[79.8,417],[87,310],[94.7,235],[102,180],[109.6,141],[117,108],[124.5,85],[132,68],[139.4,55],[147,44],[154.4,36],[162,29],[169.3,23],[177,19.5],[184.2,17],[191,15],[199.1,13],[205,11.7],[209.5,9.8],[212.5,8.3],[213.7,6.3],[214.6,2.7],[215.3,0.1],[215.6,9.5e-3],[216,2e-3],[217.5,1.4e-3],[219,1.29e-3],[225,1.17e-3],[250,1.07e-3],[280,1e-3],[300,9.5e-4],[303,1e-3],[306,7.6e-4],[308,8.9e-4],[310,6.3e-4],[312,8.3e-4],[314,6.8e-4],[317,7.9e-4],[320,7.1e-4],[321,1.6e-3],[321.5,3.2e-4],[322,7.9e-4],[330,7.6e-4],[360,7.4e-4],[400,7.4e-4],[432,7.2e-4]];
const geteCool = [[432,7.2e-4],[330,7.4e-4],[260,7.4e-4],[183,6.6e-4],[88.5,5.75e-4]];

const FONT = '"Liberation Sans", Arial, sans-serif';

const samples = [
  { label: 'GeSe',      heat: geseHeat, cool: geseCool, color: '#ff0000', width: 5,   order: 0 },
  { label: 'GeSeTe8%',  heat: te8Heat,  cool: te8Cool,  color: '#fc8d62', width: 4.5, order: 7 },
  { label: 'GeSeTe11%', heat: te11Heat, cool: te11Cool, color: '#66c2a5', width: 4.5, order: 6 },
  { label: 'GeSeTe14%', heat: te14Heat, cool: te14Cool, color: '#8da0cb', width: 4.5, order: 5 },
  { label: 'GeSeTe18%', heat: te18Heat, cool: te18Cool, color: '#e78ac3', width: 4.5, order: 4 },
  { label: 'GeSeTe25%', heat: te25Heat, cool: te25Cool, color: '#a6d854', width: 4.5, order: 3 },
  { label: 'GeSeTe43%', heat: te43Heat, cool: te43Cool, color: '#ffd92f', width: 4.5, order: 2 },
  { label: 'GeTe',      heat: geteHeat, cool: geteCool, color: '#000000', width: 4.5, order: 1 }
];

const datasets = samples.map(s => ({
  label: s.label,
  data: s.heat.concat(s.cool).map(([x, y]) => ({ x, y })),
  borderColor: s.color,
  backgroundColor: s.color,
  borderWidth: s.width,
  order: s.order,
  pointRadius: 0,
  fill: false
}));

// Box frame with outward ticks on bottom/left, inward ticks on top/right, plus y labels as 10^n
const frameTicks = {
  id: 'frameTicks',
  afterDatasetsDraw(chart) {
    const { ctx, chartArea: a } = chart;
    const x = chart.scales.x, y = chart.scales.y;
    const line = (x1, y1, x2, y2, w) => {
      ctx.lineWidth = w;
      ctx.beginPath();
      ctx.moveTo(x1, y1);
      ctx.lineTo(x2, y2);
      ctx.stroke();
    };
    ctx.save();
    ctx.strokeStyle = '#000';
    ctx.fillStyle = '#000';
    ctx.lineWidth = 3;
    ctx.strokeRect(a.left, a.top, a.right - a.left, a.bottom - a.top);

    tempTicks.forEach(t => {
      const px = x.getPixelForValue(t);
      line(px, a.bottom, px, a.bottom + 15, 3);
      line(px, a.top, px, a.top + 11, 3);
    });
    tempMinorTicks.forEach(t => {
      const px = x.getPixelForValue(t);
      line(px, a.bottom, px, a.bottom + 8, 3);
      line(px, a.top, px, a.top + 7, 3);
    });

    for (let e = -4; e <= 9; e++) {
      for (let m = 1; m <= 9; m++) {
        const v = m * Math.pow(10, e);
        if (v < y.min || v > y.max) continue;
        const py = y.getPixelForValue(v);
        const major = m === 1;
        line(a.left - (major ? 12 : 6), py, a.left, py, major ? 3 : 2);
        line(a.right, py, a.right - (major ? 10 : 5), py, major ? 3 : 2);
      }
    }

    ctx.textAlign = 'right';
    ctx.textBaseline = 'alphabetic';
    decadeLabels.forEach(e => {
      const py = y.getPixelForValue(Math.pow(10, e));
      const sup = String(e);
      ctx.font = `30px ${FONT}`;
      const supW = ctx.measureText(sup).width;
      ctx.fillText(sup, 160, py + 5);
      ctx.font = `46px ${FONT}`;
      ctx.fillText('10', 160 - supW - 1, py + 16.5);
    });
    ctx.restore();
  }
};

const cornerLegend = {
  id: 'cornerLegend',
  afterDatasetsDraw(chart) {
    const ctx = chart.ctx;
    ctx.save();
    ctx.font = `29px ${FONT}`;
    ctx.textAlign = 'left';
    ctx.textBaseline = 'middle';
    ctx.lineCap = 'round';
    chart.data.datasets.forEach((ds, i) => {
      const yy = 44 + i * 36.3;
      ctx.strokeStyle = ds.borderColor;
      ctx.lineWidth = ds.borderWidth;
      ctx.beginPath();
      ctx.moveTo(807, yy);
      ctx.lineTo(870, yy);
      ctx.stroke();
      ctx.fillStyle = '#000';
      ctx.fillText(ds.label, 880, yy + 1);
    });
    ctx.restore();
  }
};

new Chart(document.getElementById('chart'), {
  type: 'line',
  data: { datasets },
  options: {
    responsive: false,
    animation: false,
    events: [],
    layout: { padding: { top: 12, right: 52, left: 0, bottom: 0 } },
    elements: {
      line: { tension: 0, borderJoinStyle: 'round', borderCapStyle: 'round' },
      point: { radius: 0 }
    },
    plugins: {
      legend: { display: false },
      tooltip: { enabled: false }
    },
    scales: {
      x: {
        type: 'linear',
        min: 50,
        max: 450,
        grid: { display: false, drawTicks: false },
        border: { display: false },
        ticks: {
          stepSize: 50,
          padding: 18,
          autoSkip: false,
          maxRotation: 0,
          color: '#000',
          font: { family: FONT, size: 46 }
        },
        title: {
          display: true,
          text: 'Temperature (°C)',
          color: '#000',
          font: { family: FONT, size: 57 },
          padding: { top: 0, bottom: 2 }
        },
        afterFit: s => { s.height = 165; }
      },
      y: {
        type: 'logarithmic',
        min: 3.5e-4,
        max: 9.5e8,
        bounds: 'data',
        grid: { display: false, drawTicks: false },
        border: { display: false },
        ticks: { display: false },
        title: {
          display: true,
          text: 'Resistivity (Ohm*cm)',
          color: '#000',
          font: { family: FONT, size: 57 },
          padding: 0
        },
        afterFit: s => { s.width = 182; }
      }
    }
  },
  plugins: [frameTicks, cornerLegend]
});
</script>
</body>
</html>
